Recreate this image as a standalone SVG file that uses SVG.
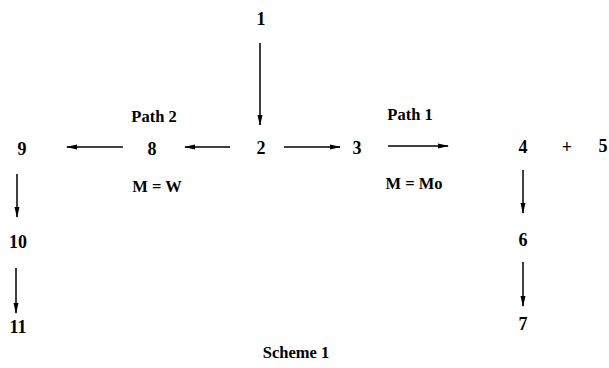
<svg xmlns="http://www.w3.org/2000/svg" width="609" height="368" viewBox="0 0 609 368">
<defs>
<marker id="ah" markerWidth="11" markerHeight="6" refX="10" refY="3" orient="auto" markerUnits="userSpaceOnUse">
<path d="M0,0.5 L11,3 L0,5.5 Z" fill="#000"/>
</marker>
<style>
text{font-family:"Liberation Serif","Times New Roman",serif;font-weight:bold;fill:#000;text-anchor:middle}
.n{font-size:18px}
.l{font-size:16.5px}
.c{font-size:16.5px}
.a{stroke:#000;stroke-width:1.5;fill:none;marker-end:url(#ah)}
</style>
</defs>
<rect width="609" height="368" fill="#fff"/>
<g id="connectors">
<line class="a" x1="260" y1="43" x2="260" y2="125"/>
<line class="a" x1="230" y1="147" x2="185" y2="147"/>
<line class="a" x1="123" y1="147" x2="67" y2="147"/>
<line class="a" x1="284" y1="147" x2="340" y2="147"/>
<line class="a" x1="388" y1="146" x2="448" y2="146"/>
<line class="a" x1="523" y1="170" x2="523" y2="213"/>
<line class="a" x1="523" y1="262" x2="523" y2="306"/>
<line class="a" x1="17" y1="174" x2="17" y2="217"/>
<line class="a" x1="16" y1="268" x2="16" y2="313"/>
</g>
<g id="n1"><text class="n" x="261" y="25">1</text></g>
<g id="n2"><text class="n" x="261" y="154">2</text></g>
<g id="n3"><text class="n" x="357" y="154">3</text></g>
<g id="n4"><text class="n" x="523" y="153">4</text></g>
<g id="plus"><text class="n" x="567" y="153">+</text></g>
<g id="n5"><text class="n" x="603" y="152">5</text></g>
<g id="n6"><text class="n" x="523" y="246">6</text></g>
<g id="n7"><text class="n" x="523" y="330">7</text></g>
<g id="n8"><text class="n" x="152" y="155">8</text></g>
<g id="n9"><text class="n" x="22" y="155">9</text></g>
<g id="n10"><text class="n" x="18" y="248">10</text></g>
<g id="n11"><text class="n" x="18" y="333">11</text></g>
<g id="labels">
<text class="l" x="154" y="122">Path 2</text>
<text class="l" x="157" y="192">M = W</text>
<text class="l" x="410" y="120">Path 1</text>
<text class="l" x="414" y="189">M = Mo</text>
<text class="c" x="296" y="358">Scheme 1</text>
</g>
</svg>
